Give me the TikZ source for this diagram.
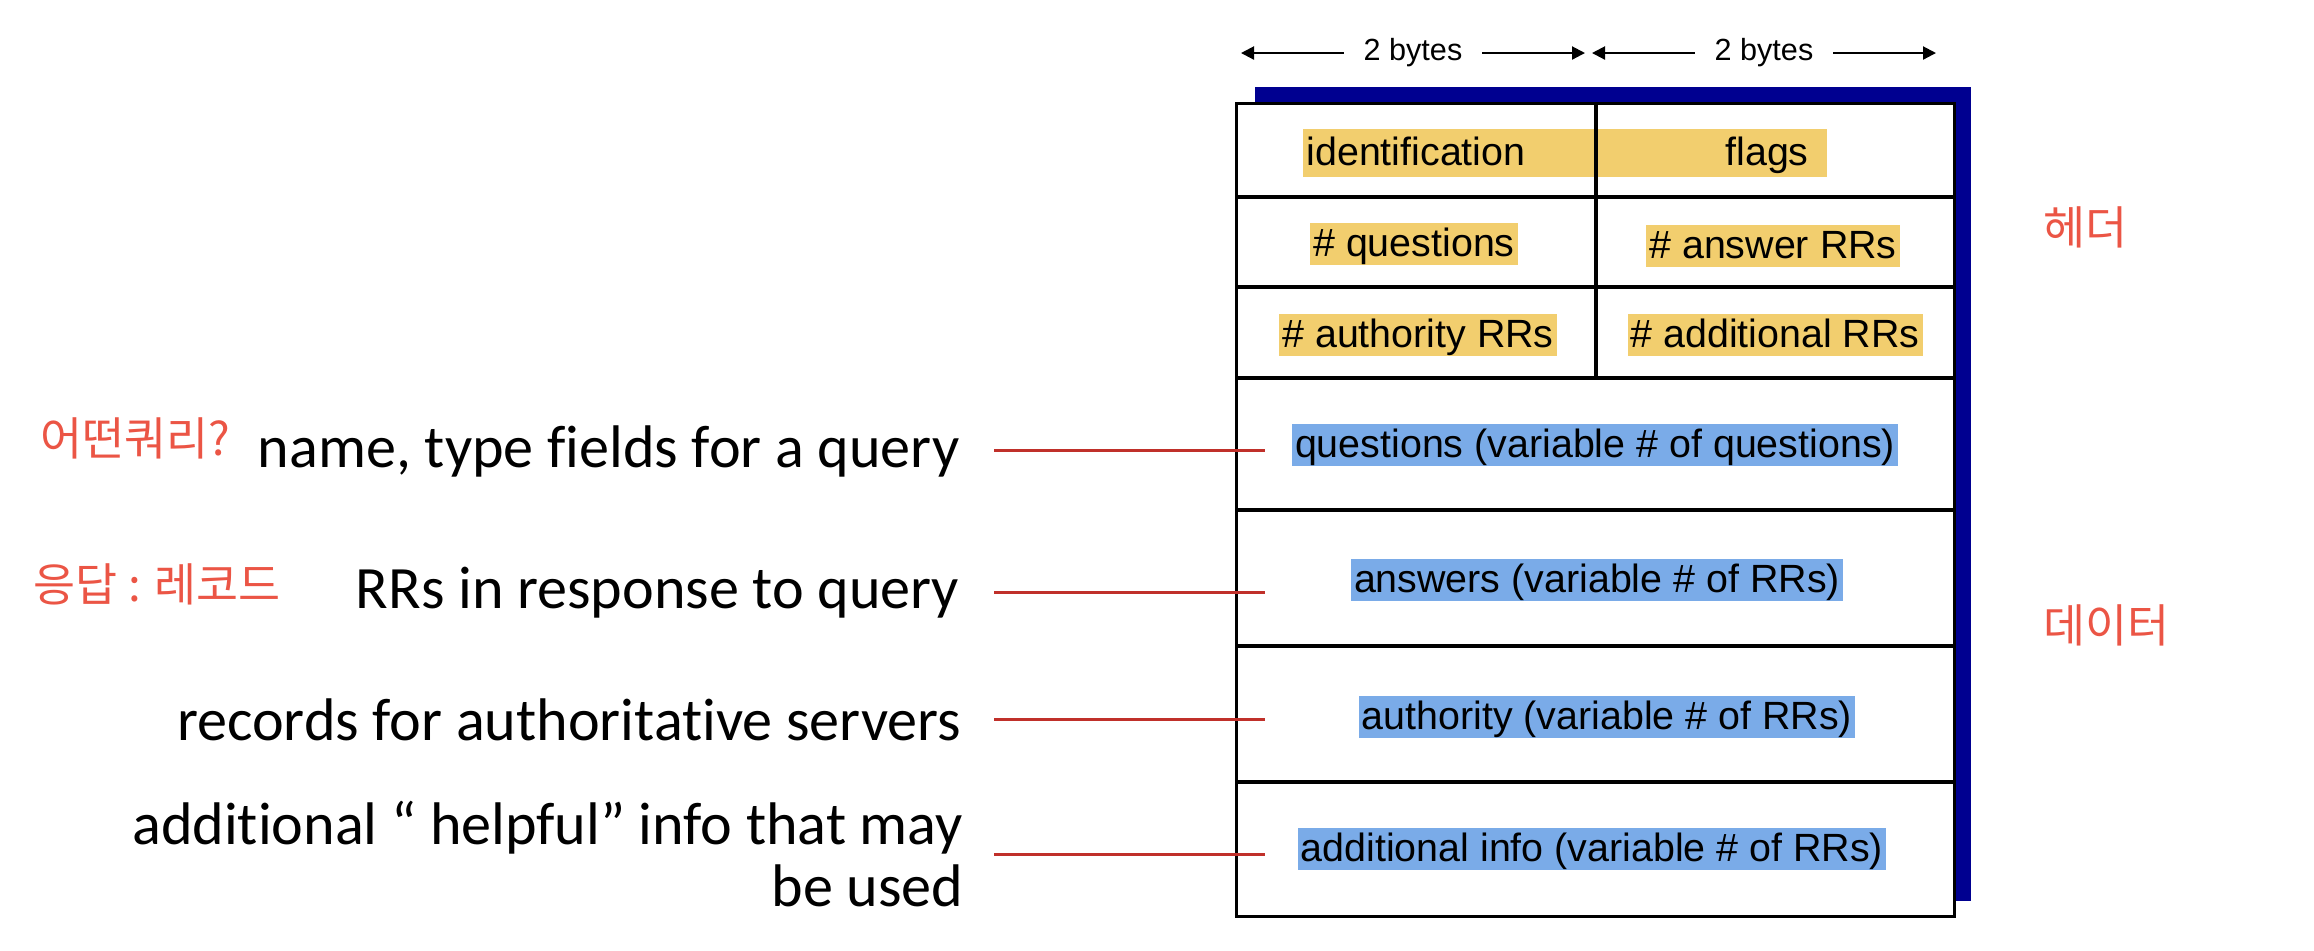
\documentclass[tikz,border=0pt]{standalone}
\usepackage{fontspec}
\setmainfont{Liberation Sans}
\newfontfamily\calibri[Ligatures=NoCommon]{Carlito}
\newfontfamily\hangul{Noto Sans CJK KR}
\usetikzlibrary{arrows.meta}

\definecolor{colorhdr}{HTML}{F2CE6E}
\definecolor{colordata}{HTML}{7AABE8}
\definecolor{colorshadow}{HTML}{000090}
\definecolor{colorline}{HTML}{C0302A}
\definecolor{colorkor}{HTML}{EB5545}
\tikzstyle{field}=[
  inner xsep=0.85pt,
  inner ysep=0pt,
  text height=0.95em,
  text depth=0.25em,
  font=\fontsize{11.2}{13}\selectfont,
  ]
\tikzstyle{hdr}=[ field, fill=colorhdr ]
\tikzstyle{data}=[ field, fill=colordata ]
\tikzstyle{msgbox}=[ draw, fill=white, line width=0.9pt, inner sep=0pt,
  minimum width=7.17cm, minimum height=8.12cm ]
\tikzstyle{rule}=[ line width=0.9pt ]
\tikzstyle{desc}=[ anchor=base east, align=right, inner sep=0pt,
  font=\calibri\fontsize{17.1}{17.9}\selectfont ]
\tikzstyle{kor}=[ anchor=west, inner sep=0pt, text=colorkor,
  font=\hangul\fontsize{13}{15}\selectfont ]
\tikzstyle{ptr}=[ colorline, line width=0.85pt ]
\tikzstyle{dim}=[ {Triangle[length=1.3mm,width=1.3mm]}-{Triangle[length=1.3mm,width=1.3mm]},
  line width=0.6pt ]
\tikzstyle{bytes}=[ fill=white, inner xsep=0.2cm, inner ysep=1pt,
  font=\fontsize{8.7}{10}\selectfont ]

\begin{document}
\begin{tikzpicture}[x=0.01cm, y=-0.01cm]
    \useasboundingbox (0,0) rectangle (2314,950);

    % field widths
    \coordinate (b1) at (1241,53);
    \coordinate (b2) at (1585,53);
    \coordinate (b3) at (1592,53);
    \coordinate (b4) at (1936,53);
    \draw[dim] (b1) -- (b2) node[midway, bytes] (w1) {2 bytes};
    \draw[dim] (b3) -- (b4) node[midway, bytes] (w2) {2 bytes};

    % message
    \fill[colorshadow] (1255,87) rectangle (1971,901);
    \node[msgbox] (box) at (1595.5,510) {};
    \fill[colorhdr] (1303,129) rectangle (1827,177);
    \foreach \y in {197,287,378,510,646,782}
      \draw[rule] (1237,\y) -- (1954,\y);
    \draw[rule] (1596,104) -- (1596,378);

    \node[field] (n1) at (1416,153) {identification};
    \node[field] (n2) at (1767,153) {flags};
    \node[hdr] (n3) at (1414,244) {\# questions};
    \node[hdr] (n4) at (1773,246) {\# answer RRs};
    \node[hdr] (n5) at (1418,335) {\# authority RRs};
    \node[hdr] (n6) at (1775,335) {\# additional RRs};
    \node[data] (n7) at (1595,445) {questions (variable \# of questions)};
    \node[data] (n8) at (1597,580) {answers (variable \# of RRs)};
    \node[data] (n9) at (1607,717) {authority (variable \# of RRs)};
    \node[data] (n10) at (1592,849) {additional info (variable \# of RRs)};

    % what each section holds
    \node[desc] (d1) at (960,467) {name, type fields for a query};
    \node[desc] (d2) at (960,608) {RRs in response to query};
    \node[desc] (d3) at (962,740) {records for authoritative servers};
    \node[desc, anchor=east] (d4) at (964,854) {additional “ helpful” info that may\\be used};
    \draw[ptr] ([xshift=0.34cm]d1.east) -- ([xshift=0.3cm]d1.east -| box.west);
    \draw[ptr] ([xshift=0.34cm]d2.east) -- ([xshift=0.3cm]d2.east -| box.west);
    \draw[ptr] ([xshift=0.32cm]d3.east) -- ([xshift=0.3cm]d3.east -| box.west);
    \draw[ptr] ([xshift=0.30cm]d4.east) -- ([xshift=0.3cm]d4.east -| box.west);

    \node[kor] (k1) at (40,438) {어떤쿼리?};
    \node[kor] (k2) at (33,584) {응답 : 레코드};
    \node[kor] (k3) at (2043,227) {헤더};
    \node[kor] (k4) at (2043,625) {데이터};
  \end{tikzpicture}
\end{document}
